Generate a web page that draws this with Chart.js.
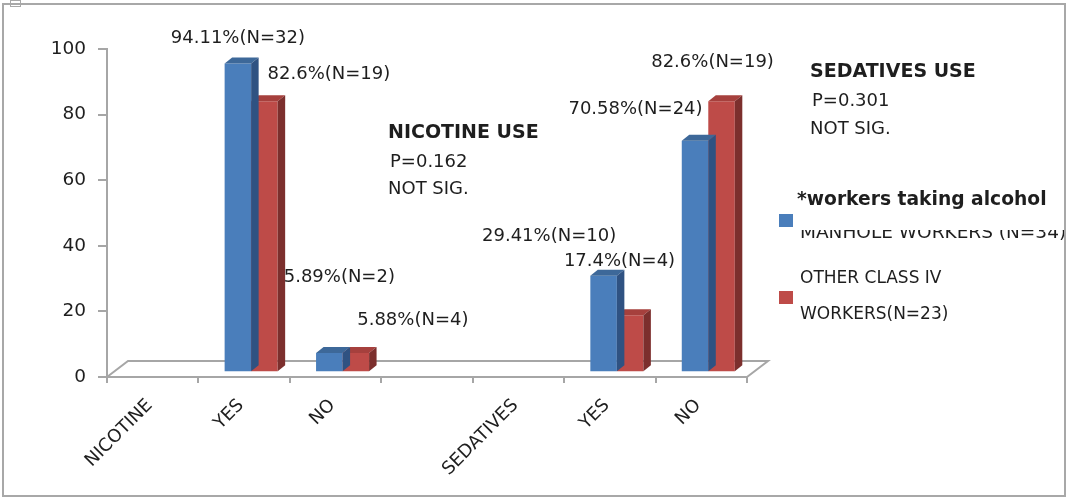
<!DOCTYPE html>
<html><head><meta charset="utf-8">
<script src="https://cdn.jsdelivr.net/npm/chart.js@4.4.1/dist/chart.umd.min.js"></script>
<style>html,body{margin:0;padding:0;background:#fff;} canvas{display:block;}</style>
</head><body>
<canvas id="c" width="1067" height="501"></canvas>
<script>
// ---- data ----
const categories = ['NICOTINE', 'YES', 'NO', '', 'SEDATIVES', 'YES', 'NO'];
const manholeValues = [null, 94.11, 5.89, null, null, 29.41, 70.58];
const otherValues = [null, 82.6, 5.88, null, null, 17.4, 82.6];
const manholeLabels = ['', '94.11%(N=32)', '5.89%(N=2)', '', '', '29.41%(N=10)', '70.58%(N=24)'];
const otherLabels = ['', '82.6%(N=19)', '5.88%(N=4)', '', '', '17.4%(N=4)', '82.6%(N=19)'];
const seriesNames = [['MANHOLE WORKERS (N=34)'], ['OTHER CLASS IV', 'WORKERS(N=23)']];
const legendTitle = '*workers taking alcohol';
const yTicks = [0, 20, 40, 60, 80, 100];
const nicotineNote = ['NICOTINE USE', 'P=0.162', 'NOT SIG.'];
const sedativesNote = ['SEDATIVES USE', 'P=0.301', 'NOT SIG.'];

// ---- styles ----
const FONT = 'DejaVu Sans';
const AXIS_COLOR = '#a6a6a6';
const TEXT_COLOR = '#1e1e1e';
const SHIFT = {x: 7, y: -4.7};
const DEPTH = {x: 7.5, y: -6};
const FLOOR = {x: 21, y: -16};
const faceColors = [
  {front: '#4a7ebb', top: '#3d6899', side: '#2f5282'},
  {front: '#be4b48', top: '#a6403d', side: '#7c2f2d'}
];
const valueLabels = [manholeLabels, otherLabels];
const labelOffsets = [
  [null, [0, -25], [10, -75.7], null, null, [-54.5, -40], [-59.5, -31]],
  [null, [64.5, -27], [57, -32.3], null, null, [-10.6, -54], [-9, -38.7]]
];
const notes = [
  {lines: nicotineNote, x: 388, ys: [133, 162, 189]},
  {lines: sedativesNote, x: 810, ys: [72, 101, 129]}
];

const bars3d = {
  id: 'bars3d',
  beforeDatasetsDraw(chart) {
    const {ctx, chartArea: a} = chart;
    const y0 = chart.scales.y.getPixelForValue(0);
    ctx.save();
    ctx.strokeStyle = AXIS_COLOR; ctx.lineWidth = 2;
    ctx.beginPath();
    ctx.moveTo(a.left, y0);
    ctx.lineTo(a.left + FLOOR.x, y0 + FLOOR.y);
    ctx.lineTo(a.right + FLOOR.x, y0 + FLOOR.y);
    ctx.lineTo(a.right, y0);
    ctx.stroke();
    ctx.restore();
    ctx.save();
    ctx.translate(SHIFT.x, SHIFT.y);
  },
  afterDatasetDraw(chart, args) {
    const ctx = chart.ctx;
    const col = faceColors[args.index];
    const data = chart.data.datasets[args.index].data;
    args.meta.data.forEach((el, i) => {
      if (data[i] == null) return;
      const {x, y, base, width} = el.getProps(['x', 'y', 'base', 'width'], true);
      const l = x - width / 2, r = x + width / 2;
      ctx.fillStyle = col.top;
      ctx.beginPath();
      ctx.moveTo(l, y); ctx.lineTo(r, y); ctx.lineTo(r + DEPTH.x, y + DEPTH.y); ctx.lineTo(l + DEPTH.x, y + DEPTH.y);
      ctx.closePath(); ctx.fill();
      ctx.fillStyle = col.side;
      ctx.beginPath();
      ctx.moveTo(r, y); ctx.lineTo(r + DEPTH.x, y + DEPTH.y); ctx.lineTo(r + DEPTH.x, base + DEPTH.y); ctx.lineTo(r, base);
      ctx.closePath(); ctx.fill();
    });
  },
  afterDatasetsDraw(chart) {
    const ctx = chart.ctx;
    ctx.restore();
    ctx.save();
    ctx.font = '18px "' + FONT + '"';
    ctx.fillStyle = TEXT_COLOR;
    ctx.textAlign = 'center'; ctx.textBaseline = 'middle';
    chart.data.datasets.forEach((ds, d) => {
      chart.getDatasetMeta(d).data.forEach((el, i) => {
        const off = labelOffsets[d][i];
        if (!off || !valueLabels[d][i]) return;
        ctx.fillText(valueLabels[d][i], el.x + SHIFT.x + off[0], el.y + SHIFT.y + off[1]);
      });
    });
    ctx.restore();
  },
  afterDraw(chart) {
    const ctx = chart.ctx;
    ctx.save();
    // notes
    ctx.fillStyle = TEXT_COLOR;
    ctx.textAlign = 'left'; ctx.textBaseline = 'middle';
    notes.forEach(n => {
      n.lines.forEach((t, k) => {
        ctx.font = (k === 0 ? 'bold 19px "' : '18px "') + FONT + '"';
        ctx.fillText(t, n.x + (k === 1 ? 2 : 0), n.ys[k]);
      });
    });
    // legend
    ctx.font = '18.5px "' + FONT + '"';
    ctx.fillText(seriesNames[0][0], 800, 233.5);
    ctx.fillStyle = '#fff';
    ctx.fillRect(796, 212, 270, 18);
    ctx.fillStyle = TEXT_COLOR;
    ctx.font = 'bold 18.7px "' + FONT + '"';
    ctx.fillText(legendTitle, 797, 200);
    ctx.font = '17px "' + FONT + '"';
    ctx.fillText(seriesNames[1][0], 800, 279);
    ctx.fillText(seriesNames[1][1], 800, 315);
    ctx.fillStyle = faceColors[0].front; ctx.fillRect(779, 214, 14, 13);
    ctx.fillStyle = faceColors[1].front; ctx.fillRect(779, 291, 14, 13);
    // frame
    ctx.strokeStyle = '#a8a8a8'; ctx.lineWidth = 2;
    ctx.strokeRect(3, 4, 1062, 492);
    ctx.lineWidth = 1;
    ctx.strokeRect(10.5, 0.5, 10, 6);
    ctx.restore();
  }
};

new Chart(document.getElementById('c'), {
  type: 'bar',
  data: {
    labels: categories,
    datasets: [
      {label: seriesNames[0].join(' '), data: manholeValues, backgroundColor: faceColors[0].front},
      {label: seriesNames[1].join(' '), data: otherValues, backgroundColor: faceColors[1].front}
    ]
  },
  options: {
    responsive: false,
    animation: false,
    devicePixelRatio: 1,
    datasets: {bar: {categoryPercentage: 0.58, barPercentage: 1.0}},
    layout: {padding: {top: 49, right: 320, bottom: 0, left: 0}},
    plugins: {legend: {display: false}, tooltip: {enabled: false}},
    scales: {
      x: {
        grid: {display: true, drawOnChartArea: false, drawTicks: true, tickLength: 6, color: AXIS_COLOR, lineWidth: 2, offset: true},
        border: {display: true, color: AXIS_COLOR, width: 2},
        ticks: {minRotation: 45, maxRotation: 45, autoSkip: false, padding: 12, labelOffset: -3, color: TEXT_COLOR, font: {family: FONT, size: 18}},
        afterFit: s => { s.height = 124; }
      },
      y: {
        min: 0, max: 100,
        afterBuildTicks: s => { s.ticks = yTicks.map(v => ({value: v})); },
        grid: {display: true, drawOnChartArea: false, drawTicks: true, tickLength: 9, color: AXIS_COLOR, lineWidth: 2},
        border: {display: true, color: AXIS_COLOR, width: 2},
        ticks: {padding: 12, color: TEXT_COLOR, font: {family: FONT, size: 18.5}},
        afterFit: s => { s.width = 107; }
      }
    }
  },
  plugins: [bars3d]
});
</script>
</body></html>
